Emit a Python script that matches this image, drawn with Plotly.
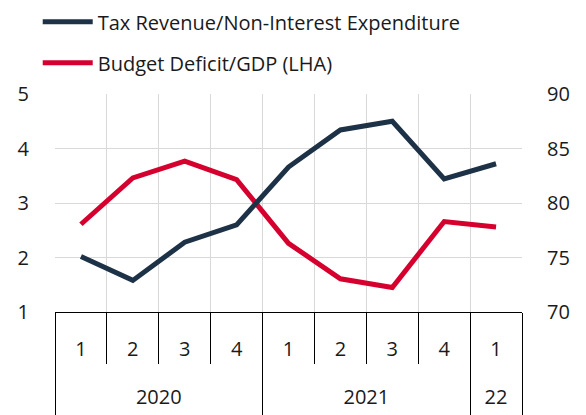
import plotly.graph_objects as go

years = ["2020", "2020", "2020", "2020", "2021", "2021", "2021", "2021", "22"]
quarters = ["1", "2", "3", "4", "1", "2", "3", "4", "1"]

tax_rev_to_exp = [75.1, 72.9, 76.4, 78.0, 83.3, 86.7, 87.5, 82.2, 83.6]
deficit_to_gdp = [2.61, 3.46, 3.77, 3.43, 2.26, 1.61, 1.45, 2.66, 2.56]

NAVY = "#1d3246"
RED = "#d6002f"
FONT = "Open Sans"

# x positions for each quarter, plus boundaries between quarters / years
pos = list(range(len(quarters)))
boundaries = [p - 0.5 for p in pos] + [pos[-1] + 0.5]
year_names = []
year_centers = []
year_edges = [-0.5]
for i, y in enumerate(years):
    if i == 0 or y != years[i - 1]:
        if i > 0:
            year_edges.append(i - 0.5)
        year_names.append(y)
        idx = [j for j, v in enumerate(years) if v == y]
        year_centers.append(sum(idx) / len(idx))
year_edges.append(pos[-1] + 0.5)
xr = [-0.5, pos[-1] + 0.5]

fig = go.Figure()

fig.add_trace(go.Scatter(
    x=pos,
    y=tax_rev_to_exp,
    name="Tax Revenue/Non-Interest Expenditure",
    mode="lines",
    line=dict(color=NAVY, width=5),
    yaxis="y2",
    legendgroup="a",
))

fig.add_trace(go.Scatter(
    x=pos,
    y=deficit_to_gdp,
    name="Budget Deficit/GDP (LHA)",
    mode="lines",
    line=dict(color=RED, width=5),
    legendgroup="b",
))

# empty helper trace so the year axis (x2) gets drawn
fig.add_trace(go.Scatter(
    x=year_centers,
    y=[None] * len(year_centers),
    xaxis="x2",
    mode="lines",
    showlegend=False,
    hoverinfo="skip",
))

fig.update_layout(
    width=586,
    height=415,
    margin=dict(l=55, r=64, t=94, b=103, autoexpand=False),
    plot_bgcolor="white",
    paper_bgcolor="white",
    font=dict(family=FONT, size=20, color="#1a1a1a"),
    showlegend=True,
    legend=dict(
        x=-0.037, y=1.421, xanchor="left", yanchor="top",
        orientation="v",
        tracegroupgap=12,
        itemwidth=50,
        font=dict(size=20),
    ),
    xaxis=dict(
        range=xr,
        automargin=False,
        tickvals=pos,
        ticktext=quarters,
        ticks="",
        ticklabelstandoff=19,
        showgrid=False,
        zeroline=False,
        showline=True,
        linecolor="black",
        linewidth=1,
        minor=dict(
            tickvals=boundaries,
            ticks="outside",
            ticklen=51,
            tickcolor="black",
            tickwidth=1,
            showgrid=True,
            gridcolor="#d9d9d9",
            gridwidth=1,
        ),
    ),
    xaxis2=dict(
        range=xr,
        overlaying="x",
        anchor="y",
        side="bottom",
        automargin=False,
        tickvals=year_centers,
        ticktext=year_names,
        ticks="",
        ticklabelstandoff=71,
        showgrid=False,
        zeroline=False,
        showline=False,
        minor=dict(
            tickvals=year_edges,
            ticks="outside",
            ticklen=110,
            tickcolor="black",
            tickwidth=1,
            showgrid=False,
        ),
    ),
    yaxis=dict(
        range=[1, 5],
        dtick=1,
        automargin=False,
        showgrid=True,
        gridcolor="#d9d9d9",
        zeroline=False,
        ticks="outside",
        ticklen=21,
        tickcolor="rgba(0,0,0,0)",
    ),
    yaxis2=dict(
        range=[70, 90],
        dtick=5,
        automargin=False,
        overlaying="y",
        side="right",
        showgrid=False,
        zeroline=False,
        ticks="outside",
        ticklen=20,
        tickcolor="rgba(0,0,0,0)",
    ),
)

fig.write_html(
    "out.html",
    config={"displayModeBar": False},
    post_script="document.body.style.margin='0';",
)
